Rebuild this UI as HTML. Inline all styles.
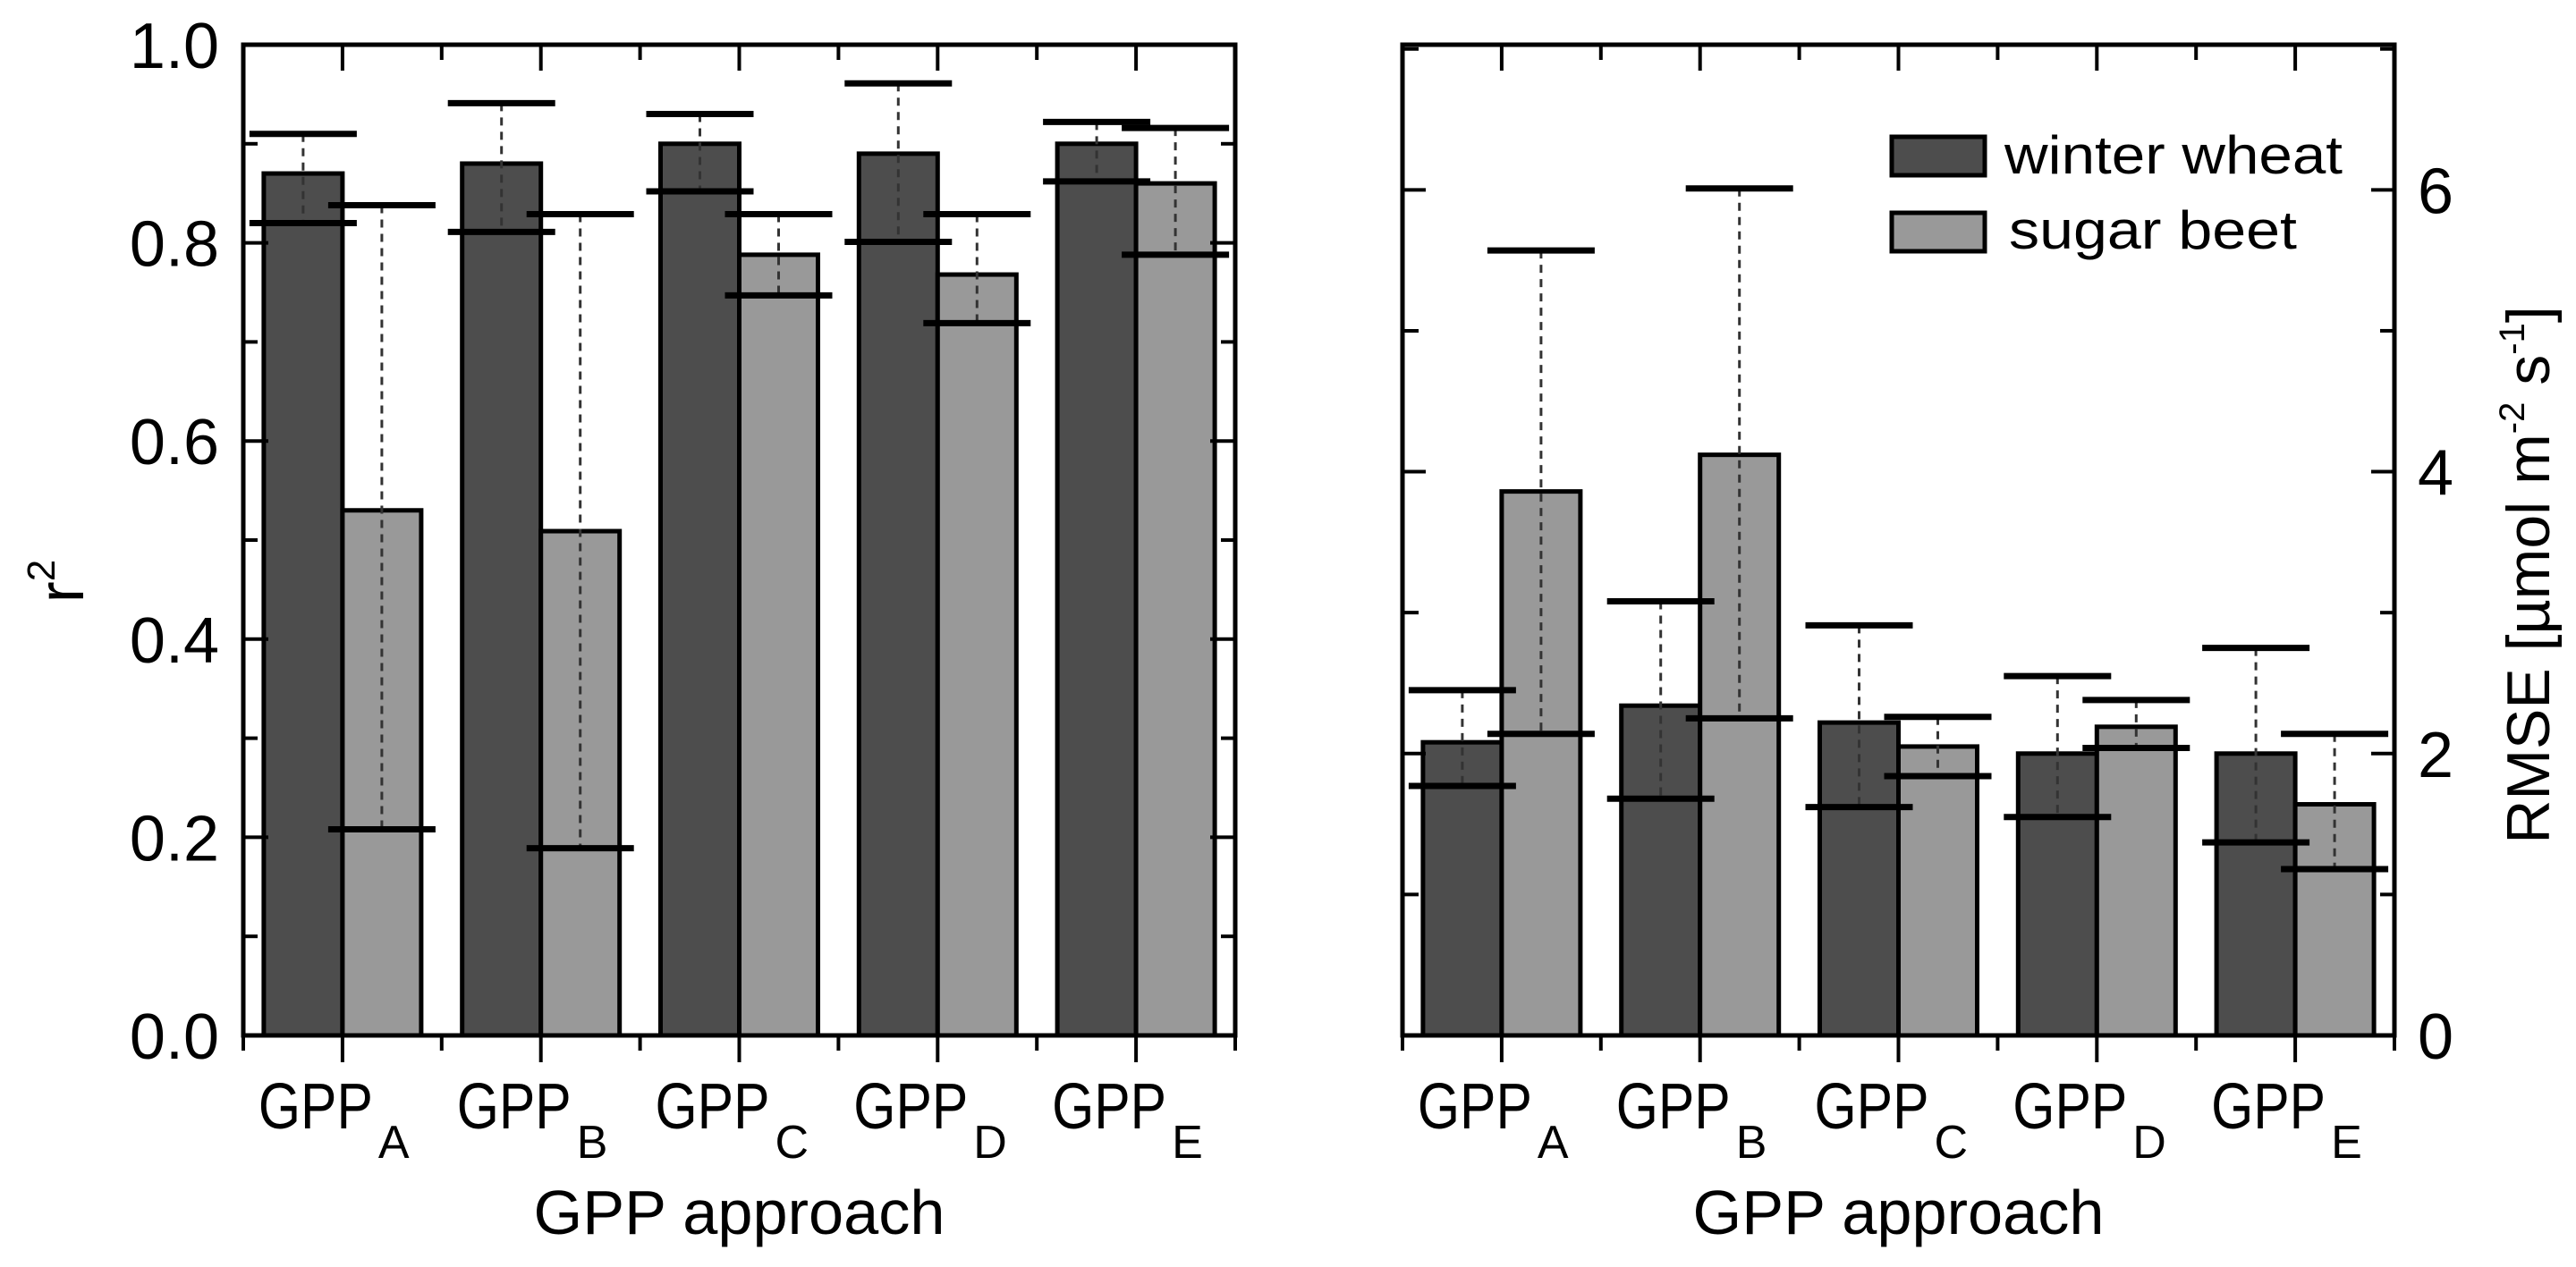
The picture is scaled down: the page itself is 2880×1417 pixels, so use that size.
<!DOCTYPE html>
<html><head><meta charset="utf-8"><style>
html,body{margin:0;padding:0;background:#fff}
svg{display:block}
text{font-family:"Liberation Sans",Arial,sans-serif;fill:#000}
</style></head><body>
<svg id="chart" width="2880" height="1417" viewBox="0 0 2880 1417" xmlns="http://www.w3.org/2000/svg"></svg>
<script>
const categories = ["A","B","C","D","E"];
const r2Wheat = [0.870,0.880,0.900,0.890,0.900];
const r2WheatMax = [0.910,0.941,0.930,0.961,0.922];
const r2WheatMin = [0.820,0.811,0.852,0.801,0.862];
const r2Beet = [0.530,0.509,0.788,0.768,0.860];
const r2BeetMax = [0.838,0.829,0.829,0.829,0.916];
const r2BeetMin = [0.208,0.189,0.747,0.719,0.788];
const rmseWheat = [2.08,2.34,2.22,2.00,2.00];
const rmseWheatMax = [2.45,3.08,2.91,2.55,2.75];
const rmseWheatMin = [1.77,1.68,1.62,1.55,1.37];
const rmseBeet = [3.86,4.12,2.05,2.19,1.64];
const rmseBeetMax = [5.57,6.01,2.26,2.38,2.14];
const rmseBeetMin = [2.14,2.25,1.84,2.04,1.18];
const r2TickLabels = ["0.0","0.2","0.4","0.6","0.8","1.0"];
const rmseTickLabels = ["0","2","4","6"];

const NS="http://www.w3.org/2000/svg";
const svg=document.getElementById('chart');
function el(tag,attrs,parent){const e=document.createElementNS(NS,tag);for(const k in attrs)e.setAttribute(k,attrs[k]);(parent||svg).appendChild(e);return e;}

function panel(cfg){
  const g=el('g',{});
  
  
  const L=cfg.x0,R=cfg.x1,T=50,B=1158;
  const step=(R-L)/categories.length;
  const yS=v=>B-(v-cfg.min)/(cfg.max-cfg.min)*(B-T);
  const xC=i=>L+step*(i+0.5);
  const bw=88;
  const clipId='clip'+cfg.name;
  const cp=el('clipPath',{id:clipId},g);
  el('rect',{x:L,y:T,width:R-L,height:B-T},cp);
  const series=[
    {v:cfg.a,mx:cfg.aMax,mn:cfg.aMin,fill:'#4d4d4d',off:-bw/2,n:'winter-wheat'},
    {v:cfg.b,mx:cfg.bMax,mn:cfg.bMin,fill:'#999999',off:bw/2,n:'sugar-beet'}
  ];
  const marks=el('g',{'clip-path':'url(#'+clipId+')'},g);
  series.forEach(s=>{
    categories.forEach((c,i)=>{
      const cx=xC(i)+s.off;
      const r=el('rect',{x:cx-bw/2,y:yS(s.v[i]),width:bw,height:B-yS(s.v[i]),fill:s.fill,stroke:'#000','stroke-width':5},marks);
      
      
    });
  });
  series.forEach(s=>{
    categories.forEach((c,i)=>{
      const cx=xC(i)+s.off;
      const d=el('line',{x1:cx,x2:cx,y1:yS(s.mx[i]),y2:yS(s.mn[i]),stroke:'#333','stroke-width':3,'stroke-dasharray':'9 7'},marks);
      
      
      [s.mx[i],s.mn[i]].forEach((v,k)=>{
        const cap=el('line',{x1:cx-60,x2:cx+60,y1:yS(v),y2:yS(v),stroke:'#000','stroke-width':7},marks);
        
        
      });
    });
  });
  const fr=el('rect',{x:L,y:T,width:R-L,height:B-T,fill:'none',stroke:'#000','stroke-width':5},g);
  
  
  for(let k=0;k<=categories.length*2;k++){
    const x=L+step*k/2;const major=k%2===1;
    el('line',{x1:x,x2:x,y1:B,y2:B+(major?30:17),stroke:'#000','stroke-width':4},g);
    if(k>0&&k<categories.length*2) el('line',{x1:x,x2:x,y1:T,y2:T+(major?29:17),stroke:'#000','stroke-width':4},g);
  }
  categories.forEach((c,i)=>{
    const t=el('text',{x:xC(i)-94,y:1262,'font-size':72},g);
    
    
    const m=el('tspan',{textLength:128,lengthAdjust:'spacingAndGlyphs'},t);m.textContent='GPP';
    const sb=document.createElementNS(NS,'tspan');sb.setAttribute('x',xC(i)+40);sb.setAttribute('y',1295);sb.setAttribute('font-size',52);sb.textContent=c;t.appendChild(sb);
  });
  const xt=el('text',{x:(L+R)/2,y:1380,'font-size':70,'text-anchor':'middle',textLength:460,lengthAdjust:'spacingAndGlyphs'},g);
  xt.textContent='GPP approach';
  
  
  for(let v=cfg.min;v<=cfg.max+1e-9;v+=cfg.minor){
    const y=yS(v);const major=Math.abs(Math.round(v/cfg.major)*cfg.major-v)<1e-6;
    if(cfg.side==='left'){
      el('line',{x1:L,x2:L+(major?28:16),y1:y,y2:y,stroke:'#000','stroke-width':4},g);
      el('line',{x1:R,x2:R-(major?28:16),y1:y,y2:y,stroke:'#000','stroke-width':4},g);
    }else{
      el('line',{x1:L,x2:L+(major?26:18),y1:y,y2:y,stroke:'#000','stroke-width':4},g);
      el('line',{x1:R,x2:R-(major?26:16),y1:y,y2:y,stroke:'#000','stroke-width':4},g);
    }
  }
  cfg.labels.forEach(lb=>{
    const v=parseFloat(lb);
    const t=el('text',{x:cfg.side==='left'?245:2703,y:yS(v)+26,'font-size':72,'text-anchor':cfg.side==='left'?'end':'start'},g);
    t.textContent=lb;
    
    
  });
}

panel({name:'r2-panel',x0:272,x1:1381,min:0,max:1.0,major:0.2,minor:0.1,side:'left',labels:r2TickLabels,
  a:r2Wheat,aMax:r2WheatMax,aMin:r2WheatMin,b:r2Beet,bMax:r2BeetMax,bMin:r2BeetMin});
panel({name:'rmse-panel',x0:1568,x1:2677,min:0,max:7.03,major:2,minor:1,side:'right',labels:rmseTickLabels,
  a:rmseWheat,aMax:rmseWheatMax,aMin:rmseWheatMin,b:rmseBeet,bMax:rmseBeetMax,bMin:rmseBeetMin});
</script>
<script>
(function(){
const NS="http://www.w3.org/2000/svg";const svg=document.getElementById('chart');
function el(tag,attrs,parent){const e=document.createElementNS(NS,tag);for(const k in attrs)e.setAttribute(k,attrs[k]);(parent||svg).appendChild(e);return e;}
const yt=el('text',{x:0,y:0,'font-size':72,transform:'translate(93,650) rotate(-90)','text-anchor':'middle'});


yt.innerHTML='r<tspan dy="-32" font-size="44">2</tspan>';
const rt=el('text',{x:0,y:0,'font-size':68,transform:'translate(2850,643) rotate(-90)','text-anchor':'middle'});


rt.innerHTML='RMSE [µmol m<tspan dy="-28" font-size="40">-2</tspan><tspan dy="28"> s</tspan><tspan dy="-28" font-size="40">-1</tspan><tspan dy="28">]</tspan>';
const lg=el('g',{});


const e1=el('rect',{x:2115,y:153,width:104,height:43,fill:'#4d4d4d',stroke:'#000','stroke-width':5},lg);


const t1=el('text',{x:2241,y:194,'font-size':60,textLength:378,lengthAdjust:'spacingAndGlyphs'},lg);t1.textContent='winter wheat';


const e2=el('rect',{x:2115,y:238,width:104,height:43,fill:'#999999',stroke:'#000','stroke-width':5},lg);


const t2=el('text',{x:2246,y:278,'font-size':60,textLength:322,lengthAdjust:'spacingAndGlyphs'},lg);t2.textContent='sugar beet';


})();
</script>
</body></html>
